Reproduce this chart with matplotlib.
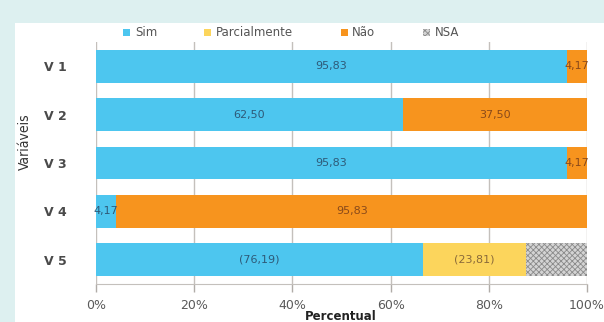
""" Stacked percentage bars per variable (Sim / Parcialmente / Não / NSA) """

import matplotlib
matplotlib.use('Agg')
import matplotlib.pyplot as plt
from matplotlib.patches import Patch, Rectangle

DPI = 100

categories = ['V 1', 'V 2', 'V 3', 'V 4', 'V 5']
sim = [95.83, 62.50, 95.83, 4.17, 66.67]
parcial = [0, 0, 0, 0, 20.83]
nao = [4.17, 37.50, 4.17, 95.83, 0]
nsa = [0, 0, 0, 0, 12.50]

sim_labels = ['95,83', '62,50', '95,83', '4,17', '(76,19)']
parcial_labels = ['', '', '', '', '(23,81)']
nao_labels = ['4,17', '37,50', '4,17', '95,83', '']

series_names = ['Sim', 'Parcialmente', 'Não', 'NSA']
xticks = [0, 20, 40, 60, 80, 100]

BLUE = '#4dc6ef'
YELLOW = '#fcd55c'
ORANGE = '#f7941e'

plt.rcParams['font.family'] = ['DejaVu Sans']
plt.rcParams['hatch.linewidth'] = 0.6
plt.rcParams['hatch.color'] = '#7a7a7a'

fig = plt.figure(figsize=(604 / DPI, 322 / DPI), dpi=DPI)
fig.patch.set_facecolor('#ddf0f0')
fig.patches.append(Rectangle((15 / 604, 0), 1, 1 - 23 / 322, transform=fig.transFigure,
                             facecolor='white', edgecolor='none', zorder=-10))

ax = fig.add_axes([96 / 604, 1 - 284 / 322, 491 / 604, 242 / 322])
ax.set_facecolor('white')

pos = list(range(len(categories)))
height = 0.68
left = [0] * len(pos)
b_sim = ax.barh(pos, sim, height, left=left, color=BLUE, zorder=2)
left = [l + v for l, v in zip(left, sim)]
b_par = ax.barh(pos, parcial, height, left=left, color=YELLOW, zorder=2)
left = [l + v for l, v in zip(left, parcial)]
b_nao = ax.barh(pos, nao, height, left=left, color=ORANGE, zorder=2)
left = [l + v for l, v in zip(left, nao)]
b_nsa = ax.barh(pos, nsa, height, left=left, color='#d4d4d4', hatch='xxxxxx',
                edgecolor='#8a8a8a', linewidth=0, zorder=2)

ax.bar_label(b_sim, labels=sim_labels, label_type='center', fontsize=8,
             color='#2e5a78', zorder=3)
ax.bar_label(b_par, labels=parcial_labels, label_type='center', fontsize=8,
             color='#8a6a3a', zorder=3)
ax.bar_label(b_nao, labels=nao_labels, label_type='center', fontsize=8,
             color='#8a4a1a', zorder=3)

ax.set_xlim(0, 100)
ax.set_ylim(len(categories) - 0.5, -0.5)
ax.set_yticks(pos)
ax.set_yticklabels(categories, fontsize=9, fontweight='bold', color='#4a4a4a')
ax.set_xticks(xticks)
ax.set_xticklabels([f'{t}%' for t in xticks], fontsize=9, color='#5a5a5a')
ax.tick_params(axis='y', length=0, pad=21)
ax.tick_params(axis='x', length=6, width=1, color='#b0aca8', pad=5)
ax.grid(axis='x', color='#c4c0bc', linewidth=1, zorder=0)
for side in ('top', 'right', 'left'):
    ax.spines[side].set_visible(False)
ax.spines['bottom'].set_color('#c4c0bc')

fig.text(25 / 604, 1 - 142 / 322, 'Variáveis', rotation=90, ha='center', va='center',
         fontsize=10, fontstretch='condensed', color='#333333',
         family=['Liberation Sans Narrow', 'DejaVu Sans Condensed', 'DejaVu Sans'])
fig.text(341 / 604, 1 - 310 / 322, 'Percentual', ha='center', va='top',
         fontsize=8.5, fontweight='bold', color='#222222')

handles = [Patch(facecolor=BLUE), Patch(facecolor=YELLOW), Patch(facecolor=ORANGE),
           Patch(facecolor='#d4d4d4', hatch='xxxxxx', edgecolor='#8a8a8a', linewidth=0)]
leg = fig.legend(handles, series_names, loc='center', bbox_to_anchor=(291 / 604, 1 - 33 / 322),
                 ncol=4, frameon=False, fontsize=8.5, handlelength=0.6, handleheight=0.6,
                 handletextpad=0.4, columnspacing=4.0, borderaxespad=0)
for text in leg.get_texts():
    text.set_color('#555555')

fig.savefig('out.png', dpi=DPI, facecolor=fig.get_facecolor())
